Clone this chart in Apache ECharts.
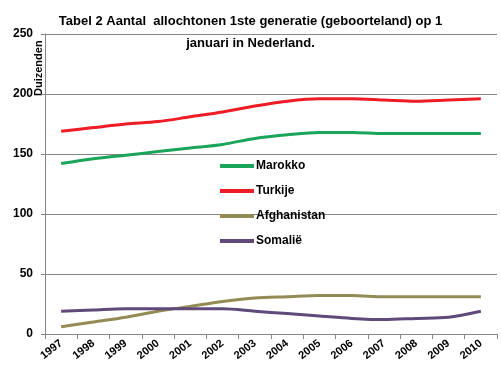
<!DOCTYPE html>
<html><head><meta charset="utf-8">
<script src="https://cdn.jsdelivr.net/npm/echarts@6/dist/echarts.min.js"></script>
<style>html,body{margin:0;padding:0;background:#fff}#c{width:501px;height:382px}</style>
</head><body><div id="c"></div>
<script>
var years = ['1997','1998','1999','2000','2001','2002','2003','2004','2005','2006','2007','2008','2009','2010'];
var marokko = [142,146,149,152,155,158,163,166,168,168,167,167,167,167];
var turkije = [169,172,175,177,181,185,190,194,196,196,195,194,195,196];
var afghanistan = [6,10,14,19,23,27,30,31,32,32,31,31,31,31];
var somalie = [19,20,21,21,21,21,19,17,15,13,12,13,14,19];
var yTicks = [0,50,100,150,200,250];
var titleLines = ['Tabel 2 Aantal  allochtonen 1ste generatie (geboorteland) op 1','januari in Nederland.'];
var yName = 'Duizenden';

var F = 'Liberation Sans';
var chart = echarts.init(document.getElementById('c'));
function s(name, data, color){
  return {name:name,type:'line',data:data,smooth:0.3,symbol:'none',
    lineStyle:{width:3,color:color},itemStyle:{color:color}};
}
chart.setOption({
  animation:false,
  graphic:[
    {type:'text',left:'center',top:15,style:{text:titleLines[0],font:'bold 13px "Liberation Sans"',fill:'#000'}},
    {type:'text',left:'center',top:37,style:{text:titleLines[1],font:'bold 13px "Liberation Sans"',fill:'#000'}},
    {type:'text',x:33,y:96,rotation:Math.PI/2,style:{text:yName,font:'bold 11px "Liberation Sans"',fill:'#000',textVerticalAlign:'top'}}
  ],
  grid:{left:45,right:4,top:34,bottom:48,outerBoundsMode:'none',containLabel:false},
  legend:{orient:'vertical',left:215,top:155,itemGap:13,itemWidth:34,itemHeight:4,icon:'rect',
    textStyle:{fontFamily:F,fontWeight:'bold',fontSize:12,color:'#000',padding:[0,0,0,-3]},
    data:['Marokko','Turkije','Afghanistan','Somalië']},
  xAxis:{type:'category',data:years,boundaryGap:true,
    axisLine:{lineStyle:{color:'#868686'}},
    axisTick:{show:true,length:5,lineStyle:{color:'#868686'}},
    axisLabel:{rotate:38,fontFamily:F,fontWeight:'bold',fontSize:11,color:'#000',margin:8,interval:0}},
  yAxis:{type:'value',min:0,max:250,interval:50,
    axisLine:{show:true,lineStyle:{color:'#868686'}},
    axisTick:{show:true,length:4,lineStyle:{color:'#868686'}},
    splitLine:{lineStyle:{color:'#868686'}},
    axisLabel:{fontFamily:F,fontWeight:'bold',fontSize:12,color:'#000',margin:12,
      formatter:function(v){return yTicks.indexOf(v)>=0?String(v):'';}}},
  series:[s('Marokko',marokko,'#1aa55a'),s('Turkije',turkije,'#ee1c25'),
    s('Afghanistan',afghanistan,'#948a54'),s('Somalië',somalie,'#604a7b')]
});
</script></body></html>
